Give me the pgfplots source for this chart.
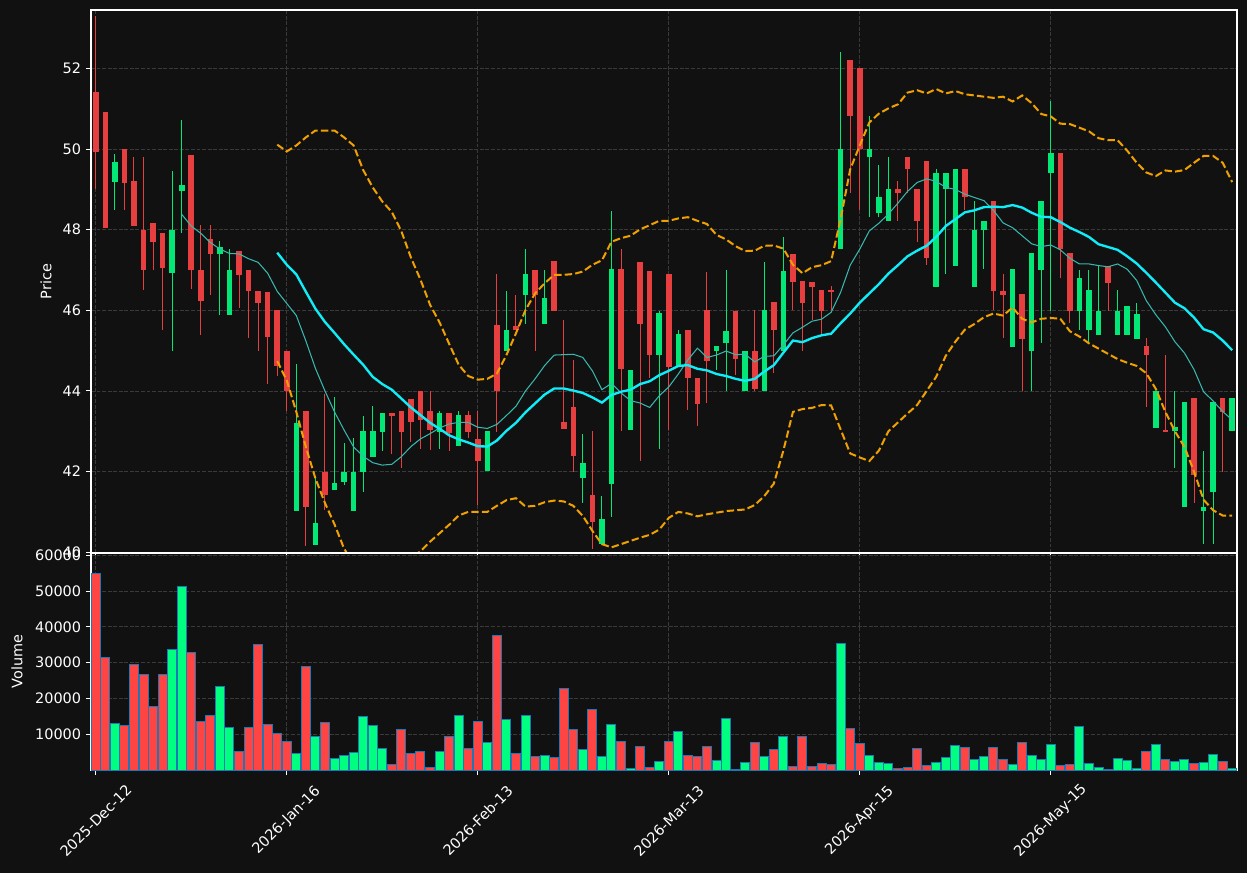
\documentclass[border=0pt]{standalone}
\usepackage{pgfplots}
\pgfplotsset{compat=1.18}
\usepackage{pgfplotstable}
\usepackage{fontspec}
\setmainfont{DejaVu Sans}
\definecolor{bg}{HTML}{111111}
\definecolor{upc}{HTML}{02E775}
\definecolor{dnc}{HTML}{E73F3F}
\definecolor{upv}{HTML}{00FF80}
\definecolor{dnv}{HTML}{FF4444}
\definecolor{vedge}{HTML}{1F77B4}
\definecolor{gridc}{HTML}{3A3A3A}
\definecolor{maten}{HTML}{38B8AE}
\definecolor{matw}{HTML}{10ECF8}
\definecolor{bbc}{HTML}{F0A000}

\pgfplotstableread{
i o h l c v
0 51.42 53.29 49.01 49.94 54900
1 50.92 50.92 48.05 48.05 31400
3 50.00 50.00 48.50 49.15 12500
4 49.21 49.80 48.09 48.09 29600
5 48.00 49.80 46.50 47.01 26700
6 48.17 48.17 47.01 47.70 17800
7 47.92 47.92 45.50 47.06 26700
10 49.85 49.85 46.54 47.01 32800
11 47.01 48.11 45.39 46.24 13600
12 47.77 48.11 46.39 47.40 15200
15 47.47 47.47 46.05 46.88 5200
16 47.01 47.01 45.31 46.49 11900
17 46.49 46.49 45.00 46.19 35100
18 46.45 46.45 44.17 45.34 12700
19 46.00 46.00 44.36 44.61 10200
20 45.00 45.00 43.50 44.01 8000
22 43.50 43.50 40.15 41.12 28900
24 42.00 43.93 41.04 41.43 13300
31 43.45 43.45 42.43 43.37 1500
32 43.50 43.50 42.10 42.99 11300
33 43.80 43.80 42.74 43.24 4600
34 44.01 44.01 42.55 43.29 5200
35 43.50 44.01 42.54 43.04 700
37 43.45 43.45 42.50 42.96 9400
39 43.41 43.50 42.83 42.99 6100
40 42.81 43.50 41.17 42.27 13600
42 45.64 46.89 42.99 44.01 37700
44 45.61 46.39 45.51 45.51 4600
46 47.01 47.01 45.00 46.39 3800
48 47.22 47.22 45.99 45.99 3600
49 43.23 45.75 43.06 43.06 22800
50 43.60 44.76 42.00 42.39 11400
52 41.42 43.01 40.09 40.76 17000
55 47.02 47.51 43.00 44.55 8000
57 47.20 47.20 42.26 45.67 6600
58 46.98 46.98 44.31 44.90 700
60 46.90 46.90 43.03 44.60 8000
62 45.51 45.51 43.52 44.31 4000
63 44.32 44.32 43.13 43.68 3700
64 46.00 46.94 43.69 44.75 6600
67 45.99 45.99 44.40 44.80 200
69 45.00 46.00 44.01 44.05 7700
71 46.20 46.20 44.44 45.50 5700
73 47.40 47.40 46.00 46.70 1000
74 46.73 46.73 45.00 46.19 9300
75 46.70 46.70 45.76 46.59 1000
76 46.50 46.50 45.42 45.99 1800
77 46.50 46.60 46.00 46.48 1500
79 52.21 52.21 48.90 50.81 11700
80 52.01 52.01 48.50 50.00 7400
84 49.01 49.20 48.21 48.90 400
85 49.80 49.80 48.90 49.50 700
86 49.01 49.01 47.70 48.21 6100
87 49.70 49.70 47.12 47.31 1300
91 49.50 49.50 48.50 48.80 6300
94 48.70 48.70 46.00 46.49 6300
95 46.49 46.89 45.31 46.39 2900
97 46.40 46.40 44.01 45.30 7700
101 49.90 49.90 46.80 47.51 1300
102 47.42 47.42 45.69 45.99 1500
106 47.11 47.11 45.99 46.68 100
110 45.12 45.31 43.61 44.90 5200
112 43.03 44.90 43.00 43.00 2900
115 43.83 43.83 41.22 41.91 1800
118 43.83 43.83 42.00 43.48 2400
}\dn

\pgfplotstableread{
i o h l c v
2 49.19 49.89 48.50 49.69 13000
8 46.93 49.45 45.00 48.00 33700
9 48.95 50.71 47.91 49.11 51200
13 47.40 47.71 45.89 47.57 23300
14 45.89 47.51 45.89 47.01 11900
21 41.01 44.68 41.01 43.20 4600
23 40.19 41.87 40.19 40.72 9300
25 41.55 43.85 41.55 41.71 3200
26 41.75 42.70 41.66 42.00 4000
27 41.01 42.84 41.01 42.00 4900
28 42.00 43.37 41.50 43.00 14900
29 42.37 43.62 42.37 43.00 12400
30 42.99 43.45 42.50 43.45 6100
36 42.99 43.50 42.55 43.45 5200
38 42.64 43.50 42.64 43.41 15200
41 42.02 43.01 42.02 43.01 7700
43 45.00 46.49 45.00 45.51 14200
45 46.39 47.51 45.65 46.90 15200
47 45.65 47.01 45.65 46.31 4000
51 41.83 42.94 41.22 42.21 5700
53 40.20 41.39 40.20 40.82 3700
54 41.70 48.46 40.87 47.02 12800
56 43.02 44.52 43.02 44.52 400
59 44.90 45.99 42.57 45.93 2400
61 44.62 45.50 44.62 45.41 10700
65 45.00 45.12 44.52 45.12 2600
66 45.19 47.01 44.01 45.48 14400
68 44.01 44.99 44.01 44.99 2100
70 44.01 47.19 44.01 46.00 3700
72 45.00 47.81 45.00 46.98 9300
78 47.51 52.40 47.51 50.00 35300
81 49.80 50.81 48.31 50.00 4000
82 48.41 49.60 48.31 48.81 2100
83 48.21 49.80 48.21 49.01 1800
88 46.59 49.50 46.59 49.40 2100
89 49.01 49.40 46.89 49.40 3500
90 47.11 49.50 47.11 49.50 6800
92 46.59 48.70 46.59 48.00 2900
93 48.00 48.21 47.02 48.21 3700
96 45.10 47.02 45.10 47.02 1500
98 45.00 47.42 44.01 47.42 4000
99 47.01 48.71 45.20 48.71 2900
100 49.40 51.20 45.99 49.90 7100
103 45.99 47.01 45.50 46.80 12100
104 45.50 47.01 45.20 46.50 1800
105 45.39 47.11 45.39 45.99 700
107 45.39 46.50 45.39 45.99 3200
108 45.39 46.11 45.39 46.11 2600
109 45.30 46.19 45.30 45.91 400
111 43.09 44.01 43.09 44.01 7100
113 43.00 44.01 42.10 43.11 2400
114 41.11 43.72 41.11 43.72 2900
116 41.01 42.50 40.20 41.11 2100
117 41.49 43.72 40.20 43.72 4300
119 43.00 43.83 43.00 43.83 400
}\up

\pgfplotstableread{
i m
9 48.38
10 48.09
11 47.91
12 47.68
13 47.52
14 47.41
15 47.40
16 47.28
17 47.19
18 46.92
19 46.47
20 46.17
21 45.87
22 45.24
23 44.56
24 44.00
25 43.48
26 43.03
27 42.61
28 42.38
29 42.22
30 42.16
31 42.18
32 42.37
33 42.62
34 42.81
35 42.94
36 43.08
37 43.18
38 43.22
39 43.22
40 43.10
41 43.07
42 43.17
43 43.39
44 43.62
45 44.00
46 44.30
47 44.63
48 44.89
49 44.90
50 44.91
51 44.83
52 44.50
53 44.03
54 44.19
55 43.95
56 43.76
57 43.70
58 43.59
59 43.88
60 44.10
61 44.42
62 44.77
63 45.06
64 44.83
65 44.89
66 44.99
67 44.90
68 44.91
69 44.72
70 44.86
71 44.87
72 45.14
73 45.44
74 45.58
75 45.73
76 45.78
77 45.95
78 46.45
79 47.12
80 47.52
81 47.97
82 48.16
83 48.39
84 48.66
85 48.95
86 49.17
87 49.26
88 49.20
89 49.05
90 49.00
91 48.88
92 48.80
93 48.72
94 48.48
95 48.17
96 48.05
97 47.85
98 47.65
99 47.58
100 47.62
101 47.50
102 47.29
103 47.15
104 47.15
105 47.11
106 47.08
107 47.15
108 47.02
109 46.74
110 46.24
111 45.89
112 45.59
113 45.22
114 44.94
115 44.53
116 43.98
117 43.75
118 43.49
119 43.28
}\maten

\pgfplotstableread{
i m u lo
19 47.43 50.11 44.74
20 47.13 49.94 44.26
21 46.89 50.09 43.48
22 46.46 50.29 42.61
23 46.04 50.46 41.83
24 45.71 50.46 41.22
25 45.44 50.46 40.69
26 45.16 50.29 40.09
27 44.90 50.09 39.71
28 44.65 49.48 39.82
29 44.35 49.05 39.64
30 44.17 48.70 39.64
31 44.03 48.44 39.61
32 43.81 47.96 39.65
33 43.59 47.31 39.87
34 43.40 46.76 40.02
35 43.21 46.14 40.26
36 43.06 45.70 40.47
37 42.90 45.17 40.68
38 42.80 44.65 40.91
39 42.72 44.37 41.00
40 42.63 44.28 41.00
41 42.62 44.30 41.00
42 42.77 44.43 41.15
43 43.01 44.89 41.29
44 43.21 45.43 41.34
45 43.47 46.01 41.13
46 43.69 46.42 41.15
47 43.91 46.67 41.24
48 44.06 46.88 41.28
49 44.06 46.88 41.26
50 44.01 46.90 41.15
51 43.95 46.96 40.90
52 43.84 47.13 40.53
53 43.71 47.24 40.20
54 43.90 47.70 40.12
55 43.98 47.79 40.20
56 44.03 47.85 40.28
57 44.17 48.01 40.36
58 44.24 48.11 40.43
59 44.39 48.22 40.56
60 44.50 48.22 40.85
61 44.62 48.28 41.00
62 44.64 48.31 40.96
63 44.55 48.22 40.89
64 44.51 48.14 40.94
65 44.42 47.87 40.98
66 44.37 47.76 41.02
67 44.30 47.59 41.04
68 44.25 47.47 41.06
69 44.30 47.48 41.17
70 44.48 47.60 41.39
71 44.64 47.61 41.70
72 44.95 47.53 42.52
73 45.25 47.13 43.48
74 45.21 46.92 43.55
75 45.31 47.07 43.58
76 45.38 47.12 43.65
77 45.42 47.22 43.64
78 45.68 48.27 43.04
79 45.92 49.50 42.45
80 46.19 50.09 42.35
81 46.42 50.66 42.26
82 46.65 50.88 42.52
83 46.91 51.01 43.00
84 47.12 51.11 43.22
85 47.34 51.40 43.44
86 47.48 51.46 43.65
87 47.60 51.38 44.00
88 47.82 51.49 44.35
89 48.09 51.38 44.87
90 48.26 51.44 45.22
91 48.43 51.36 45.52
92 48.48 51.33 45.66
93 48.56 51.30 45.83
94 48.57 51.27 45.92
95 48.56 51.30 45.87
96 48.61 51.18 46.07
97 48.55 51.33 45.79
98 48.42 51.14 45.70
99 48.32 50.87 45.79
100 48.31 50.81 45.81
101 48.19 50.63 45.79
102 48.05 50.62 45.48
103 47.94 50.53 45.35
104 47.82 50.44 45.18
105 47.64 50.27 45.05
106 47.57 50.22 44.92
107 47.50 50.22 44.79
108 47.34 49.96 44.70
109 47.16 49.66 44.62
110 46.93 49.42 44.44
111 46.69 49.33 44.05
112 46.44 49.47 43.48
113 46.19 49.44 43.00
114 46.05 49.48 42.61
115 45.82 49.66 42.00
116 45.53 49.83 41.30
117 45.45 49.83 41.04
118 45.25 49.66 40.91
119 45.01 49.18 40.91
}\bb

\pgfplotsset{
  darkax/.style={
    scale only axis, width=825.12bp,
    xmin=-0.5, xmax=119.5,
    axis line style={white, line width=0.8bp},
    tick style={white, line width=0.8bp},
    major tick length=3.6bp,
    tick align=outside,
    tick pos=left,
    xtick={0,20,40,60,80,100},
    grid=major,
    major grid style={gridc, dash pattern=on 2.8bp off 1.2bp, line width=0.6bp},
    tick label style={white, font=\fontsize{10.4bp}{12bp}\selectfont},
    /pgf/number format/assume math mode=true,
  },
  candle/.style={only marks, mark=*, mark size=0pt, mark options={draw=none, fill=none},
    error bars/.cd, y dir=both, y explicit, error mark=none},
}

\begin{document}
\begin{tikzpicture}
\path[use as bounding box, fill=bg] (0,0) rectangle (897.84bp,628.56bp);

% Price panel
\begin{axis}[darkax, at={(65.52bp,230.4bp)}, anchor=south west, height=390.96bp,
  ymin=39.98, ymax=53.45, ytick={40,42,...,52}, xticklabels={},
  ylabel={Price},
  every axis y label/.style={at={(axis description cs:-0.0393,0.5)}, rotate=90, anchor=center, white, font=\fontsize{10.4bp}{12bp}\selectfont}]
\addplot[candle, error bar style={line width=0.72bp, dnc}]
  table[x=i, y expr=(\thisrow{h}+\thisrow{l})/2, y error expr=(\thisrow{h}-\thisrow{l})/2] {\dn};
\addplot[candle, error bar style={line width=0.72bp, upc}]
  table[x=i, y expr=(\thisrow{h}+\thisrow{l})/2, y error expr=(\thisrow{h}-\thisrow{l})/2] {\up};
\addplot[candle, error bar style={line width=4bp, dnc}]
  table[x=i, y expr=(\thisrow{o}+\thisrow{c})/2, y error expr=(\thisrow{o}-\thisrow{c})/2] {\dn};
\addplot[candle, error bar style={line width=4bp, upc}]
  table[x=i, y expr=(\thisrow{o}+\thisrow{c})/2, y error expr=(\thisrow{c}-\thisrow{o})/2] {\up};
\addplot[maten, line width=0.75bp, mark=none] table[x=i, y=m] {\maten};
\addplot[matw, line width=1.7bp, mark=none] table[x=i, y=m] {\bb};
\addplot[bbc, line width=1.44bp, mark=none, dash pattern=on 5.3bp off 2.3bp] table[x=i, y=u] {\bb};
\addplot[bbc, line width=1.44bp, mark=none, dash pattern=on 5.3bp off 2.3bp] table[x=i, y=lo] {\bb};
\end{axis}

% Volume panel
\begin{axis}[darkax, at={(65.52bp,74.16bp)}, anchor=south west, height=156.24bp,
  ymin=0, ymax=60650, ytick={10000,20000,...,60000}, scaled y ticks=false,
  yticklabel style={/pgf/number format/1000 sep={}, /pgf/number format/fixed},
  xticklabels={2025-Dec-12,2026-Jan-16,2026-Feb-13,2026-Mar-13,2026-Apr-15,2026-May-15},
  xticklabel style={yshift=-33bp, rotate=45, anchor=center},
  ylabel={Volume},
  every axis y label/.style={at={(axis description cs:-0.0646,0.5)}, rotate=90, anchor=center, white, font=\fontsize{10.4bp}{12bp}\selectfont}]
\addplot[ybar, bar width=0.94, bar shift=0, fill=dnv, draw=vedge, line width=0.72bp] table[x=i, y=v] {\dn};
\addplot[ybar, bar width=0.94, bar shift=0, fill=upv, draw=vedge, line width=0.72bp] table[x=i, y=v] {\up};
\end{axis}
\end{tikzpicture}
\end{document}
